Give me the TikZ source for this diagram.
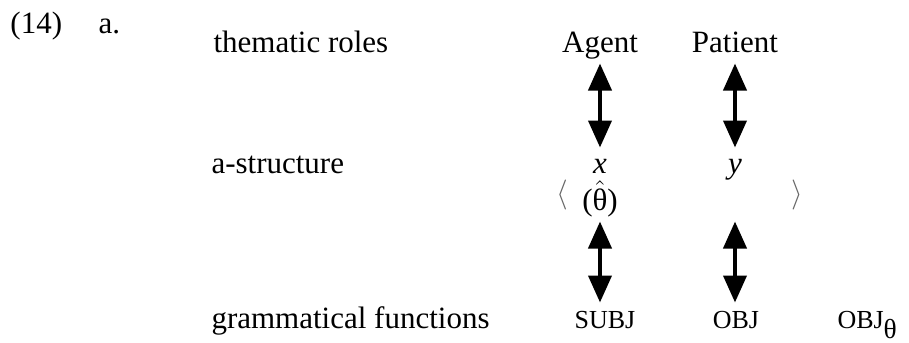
\documentclass[tikz,border=0pt]{standalone}
\usepackage{fontspec}
\setmainfont{Liberation Serif}
\usepackage{tikz}
\usetikzlibrary{arrows.meta}

\begin{document}
\begin{tikzpicture}[x=0.4pt, y=-0.4pt,
		lbl/.style={inner sep=0pt, anchor=base, text height=8.7pt, text depth=3.1pt},
		link/.style={{Triangle[width=9.2pt,length=10.8pt]}-{Triangle[width=9.2pt,length=10.8pt]}, line width=1.6pt, shorten <=1.3pt, shorten >=1.3pt},
		fnt/.style={font=\fontsize{10.4}{12}\selectfont}]
			\fontsize{12.4}{15}\selectfont
			\useasboundingbox (0,0) rectangle (909,342);
			%example number and row labels
			\node[lbl, anchor=base west] (num) at (10,33) {(14)};
			\node[lbl, anchor=base west] (sub) at (98,33) {a.};
			\node[lbl, anchor=base west] (roles) at (213,52) {thematic roles};
			\node[lbl, anchor=base west] (astr) at (211,173) {a-structure};
			\node[lbl, anchor=base west] (gf) at (211,328) {grammatical functions};
			%thematic roles
			\node[lbl] (agent) at (600,52) {Agent};
			\node[lbl] (patient) at (735,52) {Patient};
			%a-structure
			\node[lbl] (xa) at (600,173) {\textit{x}};
			\node[lbl] (yb) at (735,173) {\textit{y}};
			\node[lbl] (th) at (600,210) {($\hat{\hbox{θ}}$)};
			\node[inner sep=0pt, text=black!60] (lang) at (562,195) {$\langle$};
			\node[inner sep=0pt, text=black!60] (rang) at (797,195) {$\rangle$};
			%grammatical functions
			\node[lbl, fnt] (subj) at (605,328) {SUBJ};
			\node[lbl, fnt] (obj) at (736,328) {OBJ};
			\node[lbl, fnt, anchor=base west] (objth) at (837,328) {OBJ\textsubscript{\fontsize{11}{12}\selectfont θ}};
			%mapping arrows
			\draw[link] (agent.south) -- (agent.south |- xa.north);
			\draw[link] (patient.south) -- (yb.north);
			\draw[link] (th.south) -- (th.south |- subj.north);
			\draw[link] (yb.south |- th.south) -- (yb.south |- obj.north);
		\end{tikzpicture}
\end{document}
